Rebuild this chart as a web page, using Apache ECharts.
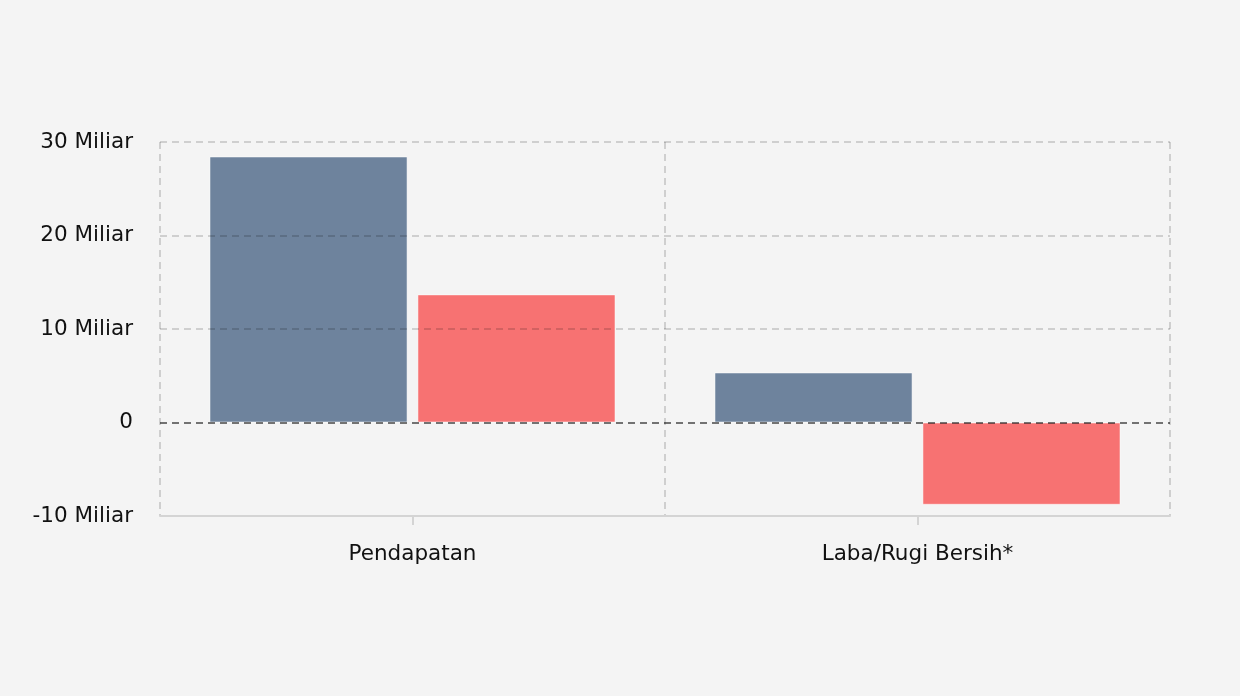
<!DOCTYPE html>
<html>
<head>
<meta charset="utf-8">
<script src="https://cdn.jsdelivr.net/npm/echarts@6/dist/echarts.min.js"></script>
<style>
html,body{margin:0;padding:0;background:#f4f4f4;}
#chart{width:1240px;height:696px;}
</style>
</head>
<body>
<div id="chart"></div>
<script>
const categories = ['Pendapatan', 'Laba/Rugi Bersih*'];
const seriesNames = ['Periode Sebelumnya', 'Periode Berjalan'];
const seriesA = [28.45e9, 5.35e9];
const seriesB = [13.7e9, -8.8e9];
const yTicks = [-10e9, 0, 10e9, 20e9, 30e9];

const chart = echarts.init(document.getElementById('chart'));
const font = 'DejaVu Sans, Verdana, sans-serif';
chart.setOption({
  backgroundColor: '#f4f4f4',
  animation: false,
  grid: {left: 160, right: 70, top: 142, bottom: 180},
  xAxis: {
    type: 'category',
    data: categories,
    z: 3,
    axisLine: {onZero: false, lineStyle: {color: '#d4d4d4', width: 2}},
    axisTick: {show: true, alignWithLabel: true, length: 9, lineStyle: {color: '#d4d4d4', width: 2}},
    axisLabel: {color: '#111', fontFamily: font, fontSize: 21.5, margin: 27},
    splitLine: {show: true, lineStyle: {color: 'rgba(0,0,0,0.15)', type: [7, 5], width: 2}}
  },
  yAxis: {
    type: 'value',
    min: yTicks[0],
    max: yTicks[yTicks.length - 1],
    interval: 10e9,
    z: 3,
    axisLine: {show: false},
    axisTick: {show: false},
    axisLabel: {
      color: '#111', fontFamily: font, fontSize: 21.5, margin: 27,
      formatter: v => v === 0 ? '0' : (v / 1e9) + ' Miliar'
    },
    splitLine: {lineStyle: {color: 'rgba(0,0,0,0.15)', type: [7, 5], width: 2}}
  },
  series: [
    {
      name: seriesNames[0], type: 'bar', data: seriesA,
      barCategoryGap: '19.6%', barGap: '5%',
      itemStyle: {color: '#6e839d', borderColor: 'rgba(255,255,255,0.5)', borderWidth: 1}
    },
    {
      name: seriesNames[1], type: 'bar', data: seriesB,
      itemStyle: {color: '#f77272', borderColor: 'rgba(255,255,255,0.5)', borderWidth: 1},
      markLine: {
        silent: true, symbol: 'none', label: {show: false}, z: 5,
        lineStyle: {color: 'rgba(0,0,0,0.45)', type: [7, 5], width: 2},
        data: [{yAxis: 0}]
      }
    }
  ]
});
</script>
</body>
</html>
